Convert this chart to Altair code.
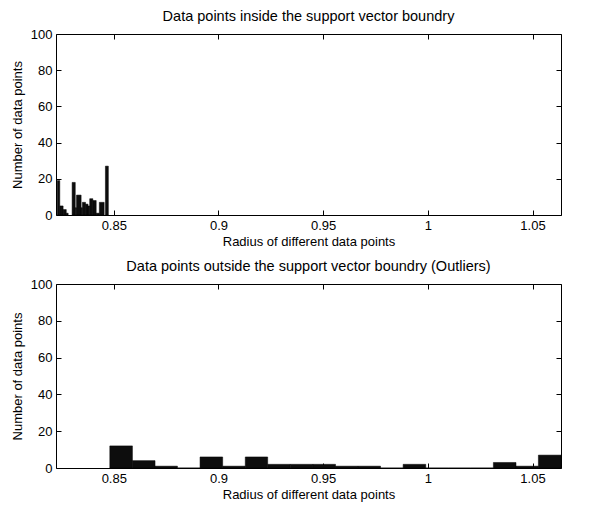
import altair as alt
import pandas as pd

# ---- data ----
in_start = [0.8230, 0.8242, 0.8258, 0.8273, 0.8301, 0.8316, 0.8322, 0.8344, 0.8350,
            0.8365, 0.8377, 0.8385, 0.8400, 0.8416, 0.8431, 0.8460]
in_end = [0.8242, 0.8258, 0.8273, 0.8282, 0.8316, 0.8322, 0.8344, 0.8350, 0.8365,
          0.8377, 0.8385, 0.8400, 0.8416, 0.8431, 0.8454, 0.8474]
in_count = [19, 5, 3, 1, 18, 4, 11, 4, 7, 6, 5, 9, 8, 1, 7, 27]

out_edges = [0.8481, 0.8589, 0.8697, 0.8804, 0.8912, 0.9020, 0.9128, 0.9235, 0.9343,
             0.9451, 0.9559, 0.9666, 0.9774, 0.9882, 0.9990, 1.0097, 1.0205, 1.0313,
             1.0421, 1.0528, 1.0636]
out_count = [12, 4, 1, 0, 6, 1, 6, 2, 2, 2, 1, 1, 0, 2, 0, 0, 0, 3, 1, 7]

x_ticks = [0.85, 0.9, 0.95, 1.0, 1.05]
y_ticks = [0, 20, 40, 60, 80, 100]
x_domain = [0.8224, 1.0636]
y_domain = [0, 100]

title_top = "Data points inside the support vector boundry"
title_bottom = "Data points outside the support vector boundry (Outliers)"
x_title = "Radius of different data points"
y_title = "Number of data points"

df_in = pd.DataFrame({"start": in_start, "end": in_end, "count": in_count})
df_out = pd.DataFrame({"start": out_edges[:-1], "end": out_edges[1:], "count": out_count})

FONT = "Liberation Sans"
TICK = 5


def panel(df, title, w, h):
    xs = alt.Scale(domain=x_domain, nice=False, zero=False)
    ys = alt.Scale(domain=y_domain, nice=False)
    bars = alt.Chart(df).mark_bar(color="#0d0d0d", stroke="#000000", strokeWidth=0.5).encode(
        x=alt.X("start:Q", scale=xs,
                axis=alt.Axis(orient="bottom", values=x_ticks, format="~g", title=x_title,
                              offset=-TICK, tickSize=TICK, domain=False, grid=False,
                              labelPadding=4, titlePadding=3)),
        x2="end:Q",
        y=alt.Y("count:Q", scale=ys,
                axis=alt.Axis(orient="left", values=y_ticks, title=y_title,
                              offset=-TICK, tickSize=TICK, domain=False, grid=False,
                              labelPadding=4, titlePadding=6)),
        y2=alt.datum(0),
    )
    frame = alt.Chart(df).mark_point(opacity=0).encode(
        x=alt.X("start:Q", scale=xs,
                axis=alt.Axis(orient="top", values=x_ticks, labels=False, title=None,
                              offset=-TICK, tickSize=TICK, domain=False, grid=False)),
        y=alt.Y("count:Q", scale=ys,
                axis=alt.Axis(orient="right", values=y_ticks, labels=False, title=None,
                              offset=-TICK, tickSize=TICK, domain=False, grid=False)),
    )
    return alt.layer(bars, frame).resolve_axis(x="independent", y="independent").properties(
        width=w, height=h,
        title=alt.TitleParams(title, fontSize=14.5, fontWeight="normal", font=FONT,
                              color="black", offset=4),
    )


top = panel(df_in, title_top, 505, 181)
bottom = panel(df_out, title_bottom, 505, 184)

chart = alt.vconcat(top, bottom, spacing=9).configure(
    font=FONT, padding={"left": 2, "top": 0, "right": 5, "bottom": 0}
).configure_view(
    stroke="black", strokeWidth=1
).configure_axis(
    labelFont=FONT, titleFont=FONT, labelFontSize=13, titleFontSize=13,
    labelColor="black", titleColor="black", tickColor="black", titleFontWeight="normal",
)

chart.save("out.html", embed_options={"renderer": "svg", "actions": False})
